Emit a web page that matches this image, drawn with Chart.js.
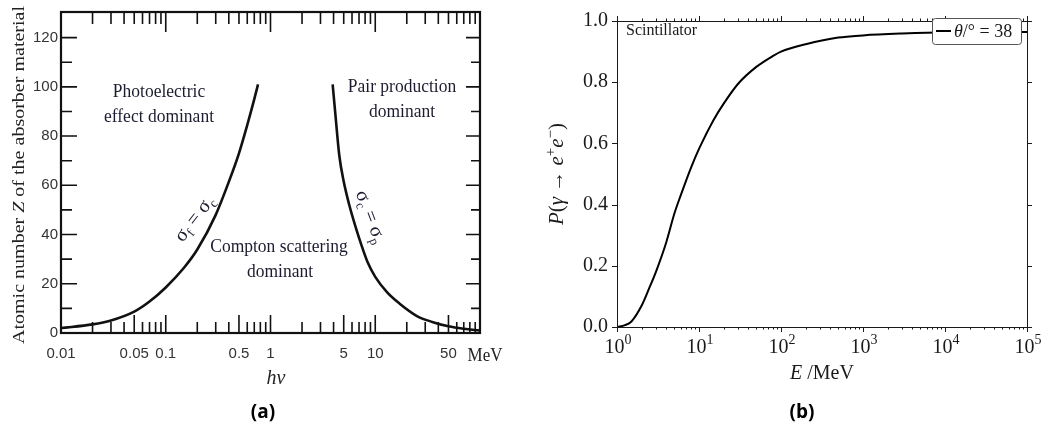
<!DOCTYPE html>
<html>
<head>
<meta charset="utf-8">
<script src="https://cdn.jsdelivr.net/npm/chart.js@4.4.1/dist/chart.umd.min.js"></script>
<style>
html, body { margin: 0; padding: 0; background: #fff; }
#wrap { position: relative; width: 1043px; height: 430px; overflow: hidden; }
canvas { position: absolute; top: 0; }
#chartA { left: 0; }
#chartB { left: 540px; }
</style>
</head>
<body>
<div id="wrap">
  <canvas id="chartA" width="520" height="430"></canvas>
  <canvas id="chartB" width="503" height="430"></canvas>
</div>
<script>
// (a) boundaries between dominant interaction regions
const energyPhotoCompton = [0.01, 0.02, 0.03, 0.05, 0.07, 0.1, 0.15, 0.2, 0.3, 0.4, 0.5, 0.6, 0.7, 0.76];
const zPhotoCompton      = [2.0, 3.5, 5.1, 8.7, 12.8, 18.5, 26.6, 33.9, 48, 61.4, 73, 84.5, 95, 101];
const energyComptonPair  = [3.92, 4.2, 4.54, 5, 5.65, 6.5, 7.3, 8.5, 10, 13, 17, 25, 35, 50, 70, 100];
const zComptonPair       = [101, 87, 72, 61.5, 52, 43, 36.3, 28.5, 22.8, 16.5, 12, 6.9, 4.5, 2.7, 1.7, 1.0];
const zTicksA      = [0, 20, 40, 60, 80, 100, 120];
const energyTicksA = [0.01, 0.05, 0.1, 0.5, 1, 5, 10, 50];

// (b) conversion probability vs energy
const energyB = [1, 1.25, 1.5, 2, 2.5, 3, 4, 5, 6, 8, 10, 15, 20, 30, 50, 80, 100, 200, 500, 1000, 3000, 10000, 100000];
const probB   = [0, 0.006, 0.018, 0.07, 0.13, 0.182, 0.278, 0.37, 0.431, 0.521, 0.582, 0.676, 0.73, 0.795, 0.85, 0.886, 0.9, 0.924, 0.946, 0.953, 0.959, 0.963, 0.964];
const probTicksB = [0, 0.2, 0.4, 0.6, 0.8, 1.0];
const decadesB   = [0, 1, 2, 3, 4, 5];

const SERIF = '"Liberation Serif", "Times New Roman", serif';
const SANS = '"Liberation Sans", Arial, sans-serif';

// draws a run of text pieces [text, font, dy] one after another
function drawPieces(ctx, pieces, x, y, align) {
    let w = 0;
    pieces.forEach(p => { ctx.font = p[1]; w += ctx.measureText(p[0]).width; });
    let cx = align === 'center' ? x - w / 2 : x;
    ctx.textAlign = 'left';
    ctx.textBaseline = 'alphabetic';
    pieces.forEach(p => {
        ctx.font = p[1];
        ctx.fillText(p[0], cx, y + (p[2] || 0));
        cx += ctx.measureText(p[0]).width;
    });
    return w;
}

function piecesWidth(ctx, pieces) {
    let w = 0;
    pieces.forEach(p => { ctx.font = p[1]; w += ctx.measureText(p[0]).width; });
    return w;
}

// text that is taller than its font (the scanned panel is stretched vertically)
function tallText(ctx, text, x, y, font, sy) {
    ctx.save();
    ctx.translate(x, y);
    ctx.scale(1, sy);
    ctx.font = font;
    ctx.textAlign = 'center';
    ctx.textBaseline = 'alphabetic';
    ctx.fillText(text, 0, 0);
    ctx.restore();
}

const panelAOverlay = {
    id: 'panelAOverlay',
    afterDraw(chart) {
        const {ctx, chartArea: a, scales: {x, y}} = chart;
        ctx.save();
        ctx.strokeStyle = '#111';
        ctx.lineWidth = 1.6;
        ctx.beginPath();
        for (let z = 0; z <= 120; z += 10) {
            const py = y.getPixelForValue(z);
            const major = z % 20 === 0;
            ctx.moveTo(a.left, py); ctx.lineTo(a.left + (major ? 16 : 11), py);
            ctx.moveTo(a.right, py); ctx.lineTo(a.right - (major ? 14 : 9), py);
        }
        [0.01, 0.1, 1, 10].forEach(d => {
            for (let m = 1; m <= 9; m++) {
                if (d === 0.01 && m === 1) continue;
                const px = x.getPixelForValue(m * d);
                ctx.moveTo(px, a.bottom); ctx.lineTo(px, a.bottom - (m === 1 || m === 5 ? 18 : 11));
                ctx.moveTo(px, a.top); ctx.lineTo(px, a.top + (m === 1 ? 20 : 12));
            }
        });
        ctx.stroke();
        ctx.lineWidth = 2.2;
        ctx.strokeRect(a.left, a.top, a.right - a.left, a.bottom - a.top);

        // region labels
        ctx.fillStyle = '#1c1c30';
        const f = '17.5px ' + SERIF;
        tallText(ctx, 'Photoelectric', 159, 96.5, f, 1.12);
        tallText(ctx, 'effect dominant', 159, 121.5, f, 1.12);
        tallText(ctx, 'Pair production', 402, 91.5, f, 1.12);
        tallText(ctx, 'dominant', 402, 116.5, f, 1.12);
        tallText(ctx, 'Compton scattering', 279, 252, f, 1.12);
        tallText(ctx, 'dominant', 280, 277, f, 1.12);

        // labels along the curves
        const big = '20px ' + SERIF, sub = '13px ' + SERIF;
        ctx.save();
        ctx.translate(195, 219);
        ctx.rotate(-52 * Math.PI / 180);
        drawPieces(ctx, [['σ', big], ['f', sub, 4], [' = σ', big], ['c', sub, 4]], 0, 5, 'center');
        ctx.restore();
        ctx.save();
        ctx.translate(370, 217);
        ctx.rotate(69 * Math.PI / 180);
        drawPieces(ctx, [['σ', big], ['c', sub, 4], [' = σ', big], ['p', sub, 4]], 0, 5, 'center');
        ctx.restore();

        // axis titles and unit
        ctx.fillStyle = '#222';
        tallText(ctx, 'MeV', 485, 360.5, '17px ' + SERIF, 1.1);
        ctx.save();
        ctx.translate(276, 384);
        ctx.scale(1, 1.1);
        drawPieces(ctx, [['hν', 'italic 20px ' + SERIF]], 0, 0, 'center');
        ctx.restore();
        const yTitle = [['Atomic number ', '17px ' + SERIF], ['Z', 'italic 17px ' + SERIF],
            [' of the absorber material', '17px ' + SERIF]];
        const sx = 338 / piecesWidth(ctx, yTitle);
        ctx.save();
        ctx.translate(24, 175);
        ctx.rotate(-Math.PI / 2);
        ctx.scale(sx, 1);
        drawPieces(ctx, yTitle, 0, 0, 'center');
        ctx.restore();

        ctx.fillStyle = '#000';
        ctx.font = 'bold 19px "Open Sans", "Noto Sans", sans-serif';
        ctx.textAlign = 'center';
        ctx.fillText('(a)', 263, 418);
        ctx.restore();
    }
};

const panelBOverlay = {
    id: 'panelBOverlay',
    afterDraw(chart) {
        const {ctx, chartArea: a, scales: {x, y}} = chart;
        ctx.save();
        ctx.strokeStyle = '#1a1a1a';
        ctx.lineWidth = 1;
        ctx.strokeRect(Math.round(a.left) + 0.5, Math.round(a.top) + 0.5,
            Math.round(a.right - a.left), Math.round(a.bottom - a.top));
        ctx.beginPath();
        decadesB.forEach(k => {
            const px = Math.round(x.getPixelForValue(10 ** k)) + 0.5;
            ctx.moveTo(px, a.bottom); ctx.lineTo(px, a.bottom + 5);
            ctx.moveTo(px, a.top); ctx.lineTo(px, a.top - 5);
            if (k === 5) return;
            for (let m = 2; m <= 9; m++) {
                const pm = Math.round(x.getPixelForValue(m * 10 ** k)) + 0.5;
                ctx.moveTo(pm, a.bottom); ctx.lineTo(pm, a.bottom + 2.5);
                ctx.moveTo(pm, a.top); ctx.lineTo(pm, a.top - 2.5);
            }
        });
        probTicksB.forEach(v => {
            const py = Math.round(y.getPixelForValue(v)) + 0.5;
            ctx.moveTo(a.left, py); ctx.lineTo(a.left - 5, py);
            ctx.moveTo(a.right, py); ctx.lineTo(a.right + 5, py);
        });
        ctx.stroke();

        // x tick labels 10^k
        ctx.fillStyle = '#1a1a1a';
        decadesB.forEach(k => {
            const px = x.getPixelForValue(10 ** k);
            drawPieces(ctx, [['10', '20px ' + SERIF], [String(k), '14px ' + SERIF, -9]], px + 1, 353, 'center');
        });
        drawPieces(ctx, [['E', 'italic 20px ' + SERIF], [' /MeV', '20px ' + SERIF]], (a.left + a.right) / 2, 379, 'center');

        ctx.save();
        ctx.translate(23, (a.top + a.bottom) / 2);
        ctx.rotate(-Math.PI / 2);
        const n = '21px ' + SERIF, it = 'italic 21px ' + SERIF, sm = '15px ' + SERIF;
        drawPieces(ctx, [['P', it], ['(', n], ['γ', it], [' → ', n], ['e', it], ['+', sm, -8],
            ['e', it], ['−', sm, -8], [')', n]], 0, 0, 'center');
        ctx.restore();

        ctx.font = '16px ' + SERIF;
        ctx.textAlign = 'left';
        ctx.fillText('Scintillator', 86, 35);

        // legend box
        ctx.fillStyle = '#fff';
        ctx.strokeStyle = '#555';
        ctx.lineWidth = 1;
        ctx.beginPath();
        ctx.roundRect(392.5, 18.5, 89, 26, 3);
        ctx.fill();
        ctx.stroke();
        ctx.strokeStyle = '#000';
        ctx.lineWidth = 2;
        ctx.beginPath();
        ctx.moveTo(396, 31); ctx.lineTo(411, 31);
        ctx.stroke();
        ctx.fillStyle = '#1a1a1a';
        drawPieces(ctx, [['θ', 'italic 18px ' + SERIF], ['/° = 38', '18px ' + SERIF]], 414, 37, 'left');

        ctx.fillStyle = '#000';
        ctx.font = 'bold 19px "Open Sans", "Noto Sans", sans-serif';
        ctx.textAlign = 'center';
        ctx.fillText('(b)', 262, 418);
        ctx.restore();
    }
};

new Chart(document.getElementById('chartA'), {
    type: 'line',
    data: {
        datasets: [
            {data: energyPhotoCompton.map((e, i) => ({x: e, y: zPhotoCompton[i]}))},
            {data: energyComptonPair.map((e, i) => ({x: e, y: zComptonPair[i]}))}
        ]
    },
    options: {
        responsive: false,
        animation: false,
        layout: {padding: {left: 0, right: 40, top: 7, bottom: 0}},
        elements: {
            line: {borderColor: '#111', borderWidth: 2.6, tension: 0.4, cubicInterpolationMode: 'monotone', fill: false},
            point: {radius: 0}
        },
        plugins: {legend: {display: false}, tooltip: {enabled: false}},
        scales: {
            x: {
                type: 'logarithmic', min: 0.01, max: 100,
                grid: {display: false, drawTicks: false}, border: {display: false},
                afterBuildTicks: s => { s.ticks = energyTicksA.map(v => ({value: v})); },
                afterFit: s => { s.height = 97; },
                ticks: {autoSkip: false, maxRotation: 0, padding: 12, color: '#333',
                    font: {family: SANS, size: 15}, callback: v => String(v)}
            },
            y: {
                min: 0, max: 130.4,
                grid: {display: false, drawTicks: false}, border: {display: false},
                afterBuildTicks: s => { s.ticks = zTicksA.map(v => ({value: v})); },
                afterFit: s => { s.width = 61; },
                ticks: {padding: 3, color: '#333', font: {family: SANS, size: 15}}
            }
        }
    },
    plugins: [panelAOverlay]
});

new Chart(document.getElementById('chartB'), {
    type: 'line',
    data: {
        datasets: [{
            label: 'θ/° = 38',
            data: energyB.map((e, i) => ({x: e, y: probB[i]})),
            borderColor: '#000', borderWidth: 2, pointRadius: 0,
            tension: 0.3, cubicInterpolationMode: 'monotone', fill: false
        }]
    },
    options: {
        responsive: false,
        animation: false,
        layout: {padding: {left: 0, right: 16, top: 15, bottom: 0}},
        plugins: {legend: {display: false}, tooltip: {enabled: false}},
        scales: {
            x: {
                type: 'logarithmic', min: 1, max: 100000,
                grid: {display: false, drawTicks: false}, border: {display: false},
                ticks: {display: false},
                afterFit: s => { s.height = 103; }
            },
            y: {
                min: 0, max: 1,
                grid: {display: false, drawTicks: false}, border: {display: false},
                afterBuildTicks: s => { s.ticks = probTicksB.map(v => ({value: v})); },
                afterFit: s => { s.width = 77; },
                ticks: {padding: 9, color: '#1a1a1a', font: {family: SERIF, size: 20},
                    callback: v => v.toFixed(1)}
            }
        }
    },
    plugins: [panelBOverlay]
});
</script>
</body>
</html>
